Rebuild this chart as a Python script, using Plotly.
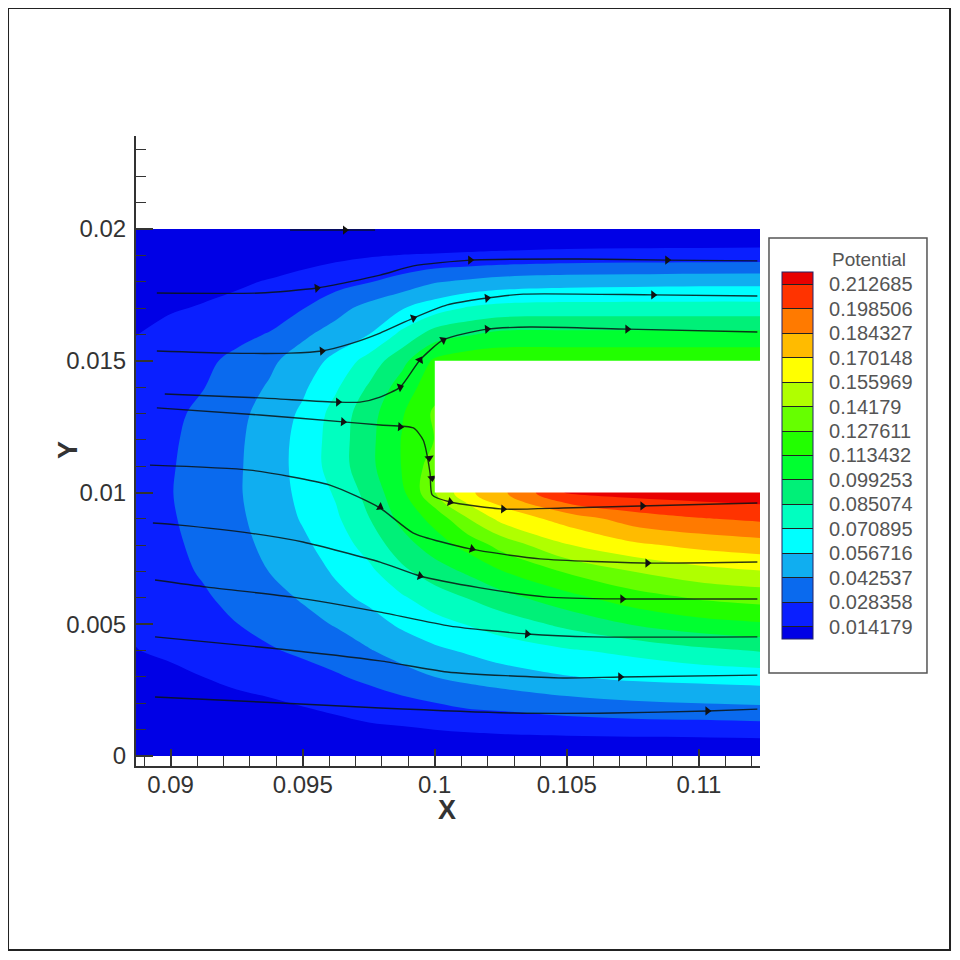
import plotly.graph_objects as go

# grid of the potential field (None = inside the slot)
x_grid = [0.08869, 0.09, 0.09125, 0.0925, 0.09375, 0.095, 0.09625, 0.0975,
          0.09875, 0.1, 0.10125, 0.1025, 0.105, 0.1075, 0.11, 0.11231]
y_grid = [0, 0.001, 0.002, 0.003, 0.004, 0.005, 0.006, 0.007, 0.008, 0.009, 0.01,
          0.011, 0.012, 0.013, 0.014, 0.015, 0.016, 0.017, 0.018, 0.019, 0.02]
N = None
z_rows = [
    [0, 0, 0, 0, 0, 0, 0, 0, 0, 0, 0, 0, 0, 0, 0, 0],
    [.0036, .0042, .0048, .0057, .0063, .0074, .0092, .0115, .0125, .0142, .0158, .0170, .0185, .0195, .0200, .0210],
    [.0072, .0085, .0097, .0115, .0126, .0151, .0180, .0213, .0248, .0280, .0316, .0330, .0375, .0408, .0425, .0440],
    [.0105, .0125, .0142, .0166, .0197, .0232, .0268, .0315, .0369, .0425, .0462, .0500, .0560, .0597, .0615, .0630],
    [.0140, .0155, .0182, .0222, .0271, .0307, .0350, .0415, .0483, .0541, .0585, .0634, .0694, .0745, .0815, .0860],
    [.0152, .0190, .0224, .0281, .0325, .0376, .0436, .0508, .0590, .0658, .0715, .0770, .0885, .1000, .1080, .1115],
    [.0165, .0215, .0265, .0328, .0376, .0440, .0528, .0597, .0690, .0782, .0855, .0935, .1085, .1210, .1290, .1330],
    [.0175, .0240, .0300, .0361, .0428, .0490, .0586, .0675, .0817, .0925, .1015, .1125, .1290, .1418, .1505, .1550],
    [.0185, .0255, .0323, .0375, .0465, .0538, .0635, .0763, .0930, .1063, .1185, .1322, .1550, .1670, .1740, .1780],
    [.0195, .0270, .0337, .0400, .0482, .0580, .0685, .0845, .1035, .1180, .1410, .1600, .1760, .1910, .1975, .2010],
    [.0205, .0278, .0345, .0410, .0495, .0604, .0725, .0900, .1100, .1410, .1670, .1810, .2140, .2185, .2205, .2220],
    [.0212, .0273, .0340, .0407, .0499, .0617, .0775, .0952, .1140, .1350, N, N, N, N, N, N],
    [.0222, .0265, .0333, .0402, .0494, .0614, .0775, .0952, .1140, .1280, N, N, N, N, N, N],
    [.0220, .0255, .0314, .0389, .0479, .0592, .0762, .0937, .1120, .1300, N, N, N, N, N, N],
    [.0205, .0240, .0280, .0359, .0440, .0542, .0689, .0866, .1058, .1220, N, N, N, N, N, N],
    [.0172, .0215, .0258, .0314, .0398, .0493, .0605, .0763, .0948, .1160, .1225, .1240, .1240, .1240, .1240, .1240],
    [.0140, .0175, .0207, .0250, .0292, .0400, .0485, .0567, .0744, .0921, .0980, .1030, .1035, .1035, .1035, .1035],
    [.0118, .0132, .0150, .0175, .0215, .0278, .0374, .0473, .0557, .0642, .0722, .0756, .0768, .0768, .0768, .0768],
    [.0090, .0100, .0110, .0125, .0150, .0185, .0230, .0275, .0339, .0415, .0449, .0484, .0509, .0517, .0526, .0526],
    [.0045, .0050, .0055, .0065, .0075, .0090, .0110, .0130, .0145, .0152, .0162, .0172, .0188, .0195, .0198, .0201],
    [0, 0, 0, 0, 0, 0, 0, 0, 0, 0, 0, 0, 0, 0, 0, 0],
]

# legend levels and band colours, bottom to top
levels = [0.014179, 0.028358, 0.042537, 0.056716, 0.070895, 0.085074, 0.099253, 0.113432,
          0.127611, 0.14179, 0.155969, 0.170148, 0.184327, 0.198506, 0.212685]
level_labels = ["0.014179", "0.028358", "0.042537", "0.056716", "0.070895", "0.085074",
                "0.099253", "0.113432", "0.127611", "0.14179", "0.155969", "0.170148",
                "0.184327", "0.198506", "0.212685"]
band_colors = ["#0000e6", "#0a1fff", "#0a6aee", "#10aef0", "#00ffff", "#00ffc0", "#00f078",
               "#00ff30", "#22ff00", "#66ff00", "#b0ff00", "#ffff00", "#ffbb00", "#ff7a00",
               "#ff3300", "#e80000"]

# streamlines
line1_x = [.08948, .09338, .09554, .09793, .09919, .10134, .10551, .10880, .11221]
line1_y = [.01757, .01757, .01776, .01825, .01860, .01882, .01886, .01882, .01879]
line2_x = [.08948, .09213, .09452, .09573, .09679, .09793, .09919, .10047, .10198, .10335, .10827, .11221]
line2_y = [.01537, .01529, .01529, .01537, .01564, .01605, .01662, .01712, .01738, .01753, .01750, .01746]
line3_x = [.08978, .09338, .09630, .09717, .09793, .09869, .09944, .10032, .10198, .10361, .10729, .11221]
line3_y = [.01374, .01359, .01343, .01343, .01362, .01400, .01503, .01579, .01620, .01628, .01620, .01609]
line4_x = [.08948, .09338, .09653, .09793, .09919, .09956, .09982, .09990, .10058, .10259, .10486, .10778, .11221]
line4_y = [.01321, .01294, .01268, .01256, .01245, .01199, .01074, .00991, .00964, .00937, .00941, .00949, .00960]
line5_x = [.08922, .09300, .09603, .09793, .09919, .10134, .10399, .10805, .11221]
line5_y = [.01104, .01085, .01028, .00941, .00846, .00786, .00748, .00732, .00736]
line6_x = [.08933, .09024, .09300, .09501, .09793, .09944, .10172, .10426, .10714, .11221]
line6_y = [.00884, .00877, .00846, .00812, .00736, .00683, .00638, .00603, .00596, .00596]
line7_x = [.08941, .09138, .09463, .09793, .10058, .10350, .10600, .11221]
line7_y = [.00668, .00641, .00603, .00546, .00493, .00463, .00452, .00452]
line8_x = [.08941, .09376, .09793, .10047, .10486, .10702, .11221]
line8_y = [.00452, .00410, .00361, .00319, .00296, .00300, .00307]
line9_x = [.08941, .09338, .09793, .10297, .10676, .11032, .11221]
line9_y = [.00224, .00205, .00182, .00163, .00163, .00171, .00178]
line10_x = [.09452, .09660, .09774]
line10_y = [.01996, .01996, .01996]
streamlines = [(line1_x, line1_y), (line2_x, line2_y), (line3_x, line3_y), (line4_x, line4_y),
               (line5_x, line5_y), (line6_x, line6_y), (line7_x, line7_y), (line8_x, line8_y),
               (line9_x, line9_y), (line10_x, line10_y)]

# arrow heads along the streamlines
arrow_x = [.09554, .10134, .10880, .09573, .09919, .10198, .10827,
           .09634, .09869, .09944, .10032, .10198, .10729,
           .09653, .09869, .09979, .09990, .10058, .10259, .10786,
           .09793, .10141, .10805, .09944, .10710, .10350, .10702, .11032, .09660]
arrow_y = [.01776, .01882, .01882, .01537, .01662, .01738, .01750,
           .01343, .01400, .01503, .01579, .01620, .01620,
           .01268, .01249, .01131, .01055, .00964, .00937, .00949,
           .00945, .00786, .00732, .00683, .00596, .00463, .00300, .00171, .01996]
arrow_angle = [-8, 0, 0, -5, -20, -8, 0,
               0, -20, -60, -30, -5, 0,
               5, 5, 85, 85, 15, 3, 0,
               30, 15, 0, 15, 0, 5, 0, 0, 0]

x_ticks = [0.09, 0.095, 0.1, 0.105, 0.11]
x_labels = ["0.09", "0.095", "0.1", "0.105", "0.11"]
y_ticks = [0, 0.005, 0.01, 0.015, 0.02]
y_labels = ["0", "0.005", "0.01", "0.015", "0.02"]

FONT = "Liberation Sans"
INK = "#333333"

n_bands = len(band_colors) - 1
fig = go.Figure()

fig.add_trace(go.Contour(
    x=x_grid, y=y_grid, z=z_rows,
    autocontour=False,
    contours=dict(start=levels[0], end=levels[-1], size=0.014179, coloring="fill", showlines=False),
    line=dict(width=0),
    colorscale=[[i / n_bands, c] for i, c in enumerate(band_colors)],
    hoverinfo="skip",
    colorbar=dict(
        x=(782 - 136) / 624, xanchor="left", xpad=0,
        y=0.4929, yanchor="middle", ypad=0,
        len=367, lenmode="pixels", thickness=31, thicknessmode="pixels",
        tickvals=levels,
        ticktext=["\u00a0\u00a0" + s for s in level_labels],
        ticks="inside", ticklen=31, tickwidth=1, tickcolor="#222222",
        outlinecolor="#222266", outlinewidth=1,
        tickfont=dict(family=FONT, size=20, color="#555555"),
    ),
))

for sx, sy in streamlines:
    fig.add_trace(go.Scatter(x=sx, y=sy, mode="lines", showlegend=False, hoverinfo="skip",
                             line=dict(color="rgba(10,20,20,0.85)", width=1.4, shape="spline", smoothing=0.6)))

fig.add_trace(go.Scatter(x=arrow_x, y=arrow_y, mode="markers", showlegend=False, hoverinfo="skip",
                         marker=dict(symbol="triangle-right", size=8, color="#111111", angle=arrow_angle)))

# the slot has no field in it
fig.add_shape(type="rect", x0=0.1, x1=0.11231, y0=0.01, y1=0.015, layer="above",
              fillcolor="white", line=dict(width=0))
# outer frame and legend box
fig.add_shape(type="rect", xref="paper", yref="paper", x0=-0.2051, x1=1.3045, y0=-0.2921, y1=1.2032,
              line=dict(color="#222222", width=2))
fig.add_shape(type="rect", xref="paper", yref="paper", x0=1.0144, x1=1.2676, y0=0.1476, y1=0.8381,
              line=dict(color="#555555", width=1.5))
fig.add_annotation(xref="paper", yref="paper", x=1.1747, y=0.8032, text="Potential", showarrow=False,
                   xanchor="center", yanchor="middle",
                   font=dict(family=FONT, size=19, color="#555555"))
fig.add_annotation(xref="paper", yref="paper", x=0.4984, y=-0.0698, text="<b>X</b>", showarrow=False,
                   xanchor="center", yanchor="middle",
                   font=dict(family=FONT, size=27, color=INK))
fig.add_annotation(xref="paper", yref="paper", x=-0.109, y=0.5016, text="<b>Y</b>", showarrow=False,
                   xanchor="center", yanchor="middle", textangle=-90,
                   font=dict(family=FONT, size=27, color=INK))

axis_style = dict(
    showgrid=False, zeroline=False, showline=True, linecolor=INK, linewidth=2,
    ticks="inside", ticklen=17, tickwidth=1.5, tickcolor=INK,
    minor=dict(ticks="inside", ticklen=10, tickwidth=1.2, tickcolor=INK, dtick=0.001, tick0=0),
    tickfont=dict(family=FONT, size=24, color=INK),
)
fig.update_xaxes(range=[0.08869, 0.11231], tickvals=x_ticks, ticktext=x_labels, ticklabelstandoff=-4, **axis_style)
fig.update_yaxes(range=[-0.00038, 0.02353], tickvals=y_ticks, ticktext=y_labels, ticklabelstandoff=3, **axis_style)

# page body adds 8px on the left and top
fig.update_layout(
    width=944, height=944,
    margin=dict(l=128, r=192, t=128, b=186, autoexpand=False),
    paper_bgcolor="white", plot_bgcolor="white",
    showlegend=False,
)

fig.write_html("out.html")
